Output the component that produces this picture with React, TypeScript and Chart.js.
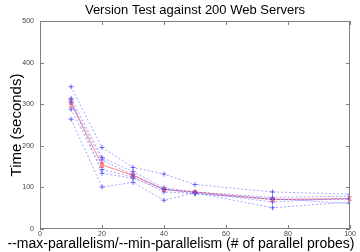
import React, { useEffect, useRef } from "react";
import { Chart, registerables } from "chart.js";

Chart.register(...registerables);

const titleText = "Version Test against 200 Web Servers";
const xTitle = "--max-parallelism/--min-parallelism (# of parallel probes)";
const yTitle = "Time (seconds)";

const xValues = [10, 20, 30, 40, 50, 75, 100];
const xTicks = [0, 20, 40, 60, 80, 100];
const yTicks = [0, 100, 200, 300, 400, 500];

const run1 = [342, 196, 148, 132, 107, 89, 84];
const run2 = [314, 172, 138, 99, 89, 76, 79];
const run3 = [305, 166, 130, 96, 85, 71, 71];
const run4 = [288, 143, 125, 89, 85, 73, 61];
const run5 = [264, 101, 112, 69, 87, 51, 65];
const run6 = [310, 134, 122, 95, 88, 65, 74];
const runs = [run1, run2, run3, run4, run5, run6];

const meanValues = [302, 154, 129, 95, 89, 71, 73];
const meanError = [9, 6, 5, 4, 3, 4, 4];

const FONT = "'Liberation Sans', Arial, sans-serif";

export default function App() {
  const ref = useRef<HTMLCanvasElement | null>(null);

  useEffect(() => {
    document.body.style.margin = "0";
    const canvas = ref.current;
    if (!canvas) return;

    const blueSets = runs.map((r, i) => ({
      label: "run " + (i + 1),
      data: xValues.map((x, j) => ({ x, y: r[j] })),
      borderColor: "rgba(80,80,255,0.5)",
      backgroundColor: "rgba(80,80,255,0.5)",
      borderWidth: 1,
      borderDash: [2, 2],
      pointStyle: "cross",
      pointRadius: 2.5,
      pointBorderWidth: 1,
      pointBorderColor: "rgba(60,60,255,0.75)",
      showLine: true,
      tension: 0,
    }));

    const meanSet = {
      label: "mean",
      data: xValues.map((x, j) => ({ x, y: meanValues[j] })),
      borderColor: "rgba(255,90,90,0.75)",
      backgroundColor: "rgba(255,90,90,0.75)",
      borderWidth: 1,
      pointStyle: "rect",
      pointRadius: 2,
      pointBorderWidth: 1,
      pointBackgroundColor: "rgba(255,255,255,0)",
      showLine: true,
      tension: 0,
    };

    const framePlugin = {
      id: "frame",
      afterDatasetsDraw(chart: any) {
        const { ctx, chartArea, scales, width, height } = chart;
        const { left, right, top, bottom } = chartArea;
        ctx.save();
        const xs = scales.x;
        const ys = scales.y;
        ctx.strokeStyle = "rgba(255,90,90,0.75)";
        ctx.lineWidth = 1;
        xValues.forEach((x, j) => {
          const px = xs.getPixelForValue(x);
          const p1 = ys.getPixelForValue(meanValues[j] - meanError[j]);
          const p2 = ys.getPixelForValue(meanValues[j] + meanError[j]);
          ctx.beginPath();
          ctx.moveTo(px, p1);
          ctx.lineTo(px, p2);
          ctx.moveTo(px - 2, p1);
          ctx.lineTo(px + 2, p1);
          ctx.moveTo(px - 2, p2);
          ctx.lineTo(px + 2, p2);
          ctx.stroke();
        });
        ctx.strokeStyle = "#808080";
        ctx.lineWidth = 1;
        ctx.strokeRect(left + 0.5, top + 0.5, right - left - 1, bottom - top - 1);
        ctx.beginPath();
        xTicks.forEach((t) => {
          const px = Math.round(xs.getPixelForValue(t)) + 0.5;
          ctx.moveTo(px, bottom);
          ctx.lineTo(px, bottom - 4);
          ctx.moveTo(px, top);
          ctx.lineTo(px, top + 4);
        });
        yTicks.forEach((t) => {
          const py = Math.round(ys.getPixelForValue(t)) + 0.5;
          ctx.moveTo(left, py);
          ctx.lineTo(left + 4, py);
          ctx.moveTo(right, py);
          ctx.lineTo(right - 4, py);
        });
        ctx.stroke();
        ctx.fillStyle = "#000";
        ctx.textAlign = "center";
        ctx.textBaseline = "middle";
        ctx.font = "13px " + FONT;
        ctx.fillText(titleText, (left + right) / 2, 10);
        ctx.font = "14px " + FONT;
        ctx.fillText(xTitle, width / 2 + 1, height - 8);
        ctx.restore();
      },
    };

    const chart = new Chart(canvas, {
      type: "scatter",
      data: { datasets: [...blueSets, meanSet] as any },
      options: {
        animation: false,
        responsive: false,
        maintainAspectRatio: false,
        layout: { padding: { top: 21, right: 10, left: 0, bottom: 0 } },
        plugins: {
          legend: { display: false },
          title: { display: false },
          tooltip: { enabled: false },
        },
        scales: {
          x: {
            type: "linear",
            min: 0,
            max: 100,
            afterFit: (s: any) => {
              s.height = 23;
            },
            afterBuildTicks: (s: any) => {
              s.ticks = xTicks.map((v) => ({ value: v }));
            },
            grid: { display: false, drawTicks: false, tickLength: 0 },
            border: { display: false },
            ticks: {
              font: { size: 7, family: FONT },
              color: "#444",
              padding: 1,
              maxRotation: 0,
            },
            title: { display: false },
          },
          y: {
            type: "linear",
            min: 0,
            max: 500,
            afterFit: (s: any) => {
              s.width = 40;
            },
            afterBuildTicks: (s: any) => {
              s.ticks = yTicks.map((v) => ({ value: v }));
            },
            grid: { display: false, drawTicks: false, tickLength: 0 },
            border: { display: false },
            ticks: {
              font: { size: 7, family: FONT },
              color: "#444",
              padding: 6,
            },
            title: {
              display: true,
              text: yTitle,
              font: { size: 15, family: FONT },
              color: "#000",
              padding: { top: 8, bottom: 0 },
            },
          },
        },
      },
      plugins: [framePlugin],
    });

    return () => chart.destroy();
  }, []);

  return (
    <div style={{ width: 360, height: 252 }}>
      <canvas ref={ref} width={360} height={252} style={{ width: 360, height: 252, display: "block" }} />
    </div>
  );
}
